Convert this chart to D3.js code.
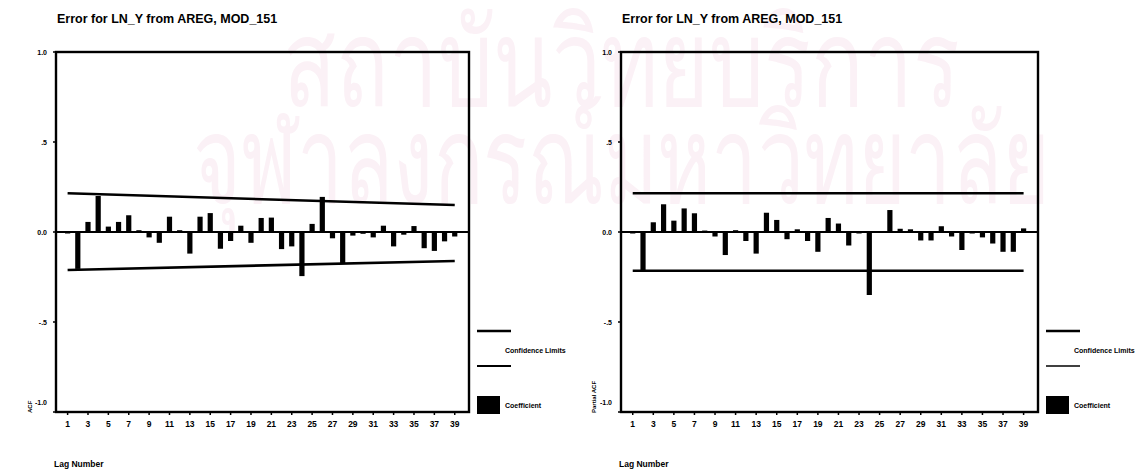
<!DOCTYPE html>
<html>
<head>
<meta charset="utf-8">
<script src="https://cdn.jsdelivr.net/npm/d3@7"></script>
<style>
  body { margin: 0; background: #fff; }
  svg { display: block; }
  text { font-family: "Liberation Sans", Arial, sans-serif; font-weight: bold; fill: #000; }
  .wm { font-family: "Noto Sans", "DejaVu Sans", sans-serif; font-weight: normal; fill: #fbf1f6; }
</style>
</head>
<body>
<svg id="chart" width="1142" height="470"></svg>
<script>
// Lags shown on the horizontal axis
const lags = [1,2,3,4,5,6,7,8,9,10,11,12,13,14,15,16,17,18,19,20,
              21,22,23,24,25,26,27,28,29,30,31,32,33,34,35,36,37,38,39];
const lagTickLabels = [1,3,5,7,9,11,13,15,17,19,21,23,25,27,29,31,33,35,37,39];

// Autocorrelations of the residual series
const acfValues = [-0.005,-0.205,0.056,0.200,0.030,0.056,0.093,0.010,-0.030,-0.060,
                   0.085,0.010,-0.120,0.085,0.105,-0.093,-0.050,0.035,-0.060,0.078,
                   0.080,-0.095,-0.080,-0.245,0.045,0.195,-0.035,-0.175,-0.020,-0.010,
                   -0.030,0.035,-0.080,-0.015,0.033,-0.090,-0.105,-0.052,-0.025];

// Partial autocorrelations of the residual series
const pacfValues = [-0.005,-0.220,0.054,0.154,0.063,0.131,0.104,0.008,-0.025,-0.128,
                    0.010,-0.050,-0.120,0.107,0.067,-0.040,0.015,-0.050,-0.110,0.078,
                    0.047,-0.075,-0.005,-0.350,0.005,0.122,0.018,0.015,-0.047,-0.047,
                    0.032,-0.025,-0.100,-0.005,-0.030,-0.064,-0.110,-0.110,0.020];

// Confidence limits (first and last lag)
const limitLags = [1, 39];
const acfUpper = [0.215, 0.150];
const acfLower = [-0.211, -0.161];
const pacfUpper = [0.215, 0.215];
const pacfLower = [-0.215, -0.215];

const yTicks = [1, 0.5, 0, -0.5, -1];
const yTickLabels = ["1.0", ".5", "0.0", "-.5", "-1.0"];

const titleText = "Error for LN_Y from AREG, MOD_151";
const legendLabels = ["Confidence Limits", "Coefficient"];

const svg = d3.select("#chart");

// faint institutional watermark behind both plots
svg.append("text").attr("class", "wm")
  .attr("x", 283).attr("y", 106)
  .attr("font-size", 122).attr("textLength", 677).attr("lengthAdjust", "spacingAndGlyphs")
  .text("สถาบันวิทยบริการ");
svg.append("text").attr("class", "wm")
  .attr("x", 193).attr("y", 203)
  .attr("font-size", 122).attr("textLength", 857).attr("lengthAdjust", "spacingAndGlyphs")
  .text("จุฬาลงกรณ์มหาวิทยาลัย");

function drawPanel(cfg) {
  const g = svg.append("g");
  const x = d3.scaleLinear().domain([-0.14, 40.4]).range([cfg.left, cfg.right]);
  const y = d3.scaleLinear().domain([-1, 1]).range([412, 52]);

  // title
  g.append("text").attr("x", cfg.left + 1).attr("y", 23)
    .attr("font-size", 12.5).text(titleText);

  // bars
  g.selectAll("rect.bar").data(cfg.values).join("rect")
    .attr("class", "bar")
    .attr("x", (d, i) => x(lags[i]) - 2.6)
    .attr("width", 5.2)
    .attr("y", d => y(Math.max(0, d)))
    .attr("height", d => Math.max(1.5, Math.abs(y(d) - y(0))))
    .attr("fill", "#000");

  // zero line
  g.append("line")
    .attr("x1", cfg.left).attr("x2", cfg.right)
    .attr("y1", y(0)).attr("y2", y(0))
    .attr("stroke", "#000").attr("stroke-width", 2.2);

  // confidence limits
  const lim = d3.line().x(d => x(d[0])).y(d => y(d[1]));
  [cfg.upper, cfg.lower].forEach(arr => {
    g.append("path")
      .attr("d", lim(limitLags.map((l, i) => [l, arr[i]])))
      .attr("fill", "none").attr("stroke", "#000").attr("stroke-width", 2.6);
  });

  // frame
  g.append("rect")
    .attr("x", cfg.left).attr("y", y(1))
    .attr("width", cfg.right - cfg.left).attr("height", y(-1) - y(1))
    .attr("fill", "none").attr("stroke", "#000").attr("stroke-width", 2.4);

  // y axis ticks and labels
  yTicks.forEach((t, i) => {
    g.append("line").attr("x1", cfg.left - 3).attr("x2", cfg.left)
      .attr("y1", y(t)).attr("y2", y(t)).attr("stroke", "#000").attr("stroke-width", 1.5);
    g.append("text")
      .attr("x", cfg.left - 9).attr("y", y(t) + (t === -1 ? -7 : 2.5))
      .attr("text-anchor", "end").attr("font-size", 7)
      .text(yTickLabels[i]);
  });

  // x axis ticks and labels
  lagTickLabels.forEach(l => {
    g.append("line").attr("x1", x(l)).attr("x2", x(l))
      .attr("y1", y(-1)).attr("y2", y(-1) + 3).attr("stroke", "#000").attr("stroke-width", 1.5);
    g.append("text").attr("x", x(l)).attr("y", 426.5)
      .attr("text-anchor", "middle").attr("font-size", 8.5)
      .text(l);
  });

  // axis titles
  g.append("text").attr("x", cfg.left - 2).attr("y", 467)
    .attr("font-size", 8.5).text("Lag Number");
  g.append("text")
    .attr("transform", `translate(${cfg.yTitleX},${413}) rotate(-90)`)
    .attr("font-size", 6).text(cfg.yTitle);

  // legend
  const lx = cfg.right + 8;
  g.append("line").attr("x1", lx).attr("x2", lx + 34).attr("y1", 331).attr("y2", 331)
    .attr("stroke", "#000").attr("stroke-width", 2.5);
  g.append("line").attr("x1", lx).attr("x2", lx + 34).attr("y1", 366).attr("y2", 366)
    .attr("stroke", "#000").attr("stroke-width", cfg.secondLineWidth);
  g.append("text").attr("x", lx + 28).attr("y", 352.5)
    .attr("font-size", 7).text(legendLabels[0]);
  g.append("rect").attr("x", lx).attr("y", 396).attr("width", 23).attr("height", 18)
    .attr("fill", "#000");
  g.append("text").attr("x", lx + 28).attr("y", 408)
    .attr("font-size", 7).text(legendLabels[1]);
}

drawPanel({ left: 56, right: 469, values: acfValues, upper: acfUpper, lower: acfLower,
            yTitle: "ACF", yTitleX: 32, secondLineWidth: 2.2 });
drawPanel({ left: 621, right: 1038, values: pacfValues, upper: pacfUpper, lower: pacfLower,
            yTitle: "Partial ACF", yTitleX: 596, secondLineWidth: 1.6 });
</script>
</body>
</html>
